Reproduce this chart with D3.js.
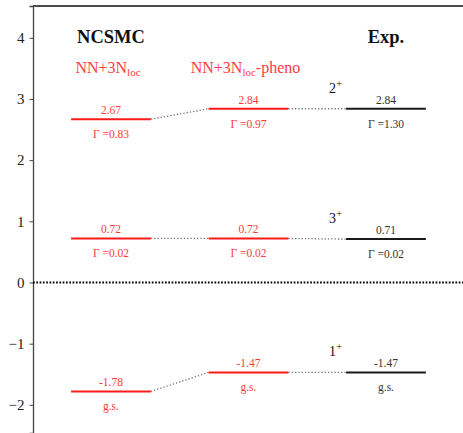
<!DOCTYPE html>
<html><head><meta charset="utf-8">
<script src="https://cdn.jsdelivr.net/npm/d3@7"></script>
<style>body{margin:0;background:#fff}svg{display:block}text{font-family:'Liberation Serif','Times New Roman','DejaVu Serif',serif}</style>
</head><body>
<script>
const columns = ["NN+3Nloc", "NN+3Nloc-pheno", "Exp."];
const states = ["2+", "3+", "1+"];
const energies = [
  [2.67, 0.72, -1.78],
  [2.84, 0.72, -1.47],
  [2.84, 0.71, -1.47]
];
const widths = [
  ["Γ =0.83", "Γ =0.02", "g.s."],
  ["Γ =0.97", "Γ =0.02", "g.s."],
  ["Γ =1.30", "Γ =0.02", "g.s."]
];
const yTicks = [-2, -1, 0, 1, 2, 3, 4];

const W = 463, H = 433;
const svg = d3.select("body").append("svg").attr("width", W).attr("height", H);
const serif = "'Liberation Serif','Times New Roman','DejaVu Serif',serif";
const RED = "#ff1a1a", RED_T = "#ff3b3b", BLK = "#1a1a1a";

const y = d3.scaleLinear().domain([-2.46, 4.52]).range([433, 6]);
const x = d3.scaleLinear().domain([-0.567, 2.56]).range([33, 463]);
const half = 0.29;

// frame
svg.append("line").attr("x1", x(-0.567)).attr("x2", W).attr("y1", y(4.52)).attr("y2", y(4.52))
  .attr("stroke", "#111").attr("stroke-width", 1.3);

const axis = d3.axisLeft(y).tickValues(yTicks).tickSize(3.5).tickPadding(5)
  .tickFormat(d => d < 0 ? "\u2212" + Math.abs(d) : d);
const ag = svg.append("g").attr("transform", `translate(${x(-0.567)},0)`).call(axis);
ag.attr("font-family", serif);
ag.select(".domain").attr("stroke", "#444").attr("stroke-width", 1.3);
ag.selectAll(".tick line").attr("stroke", "#444");
ag.selectAll(".tick text").attr("font-family", serif).attr("font-size", 15).attr("fill", "#222");

// zero line
svg.append("line").attr("x1", x(-0.567)).attr("x2", W).attr("y1", y(0)).attr("y2", y(0))
  .attr("stroke", "#000").attr("stroke-width", 1.8).attr("stroke-dasharray", "1.7,1.6");

// connectors
for (let c = 0; c < 2; c++) {
  for (let s = 0; s < states.length; s++) {
    svg.append("line")
      .attr("x1", x(c + half)).attr("y1", y(energies[c][s]))
      .attr("x2", x(c + 1 - half)).attr("y2", y(energies[c + 1][s]))
      .attr("stroke", "#777").attr("stroke-width", 1.3).attr("stroke-dasharray", "1.3,2");
  }
}

// levels
energies.forEach((col, c) => {
  const lc = c < 2 ? RED : BLK, tc = c < 2 ? RED_T : "#333";
  col.forEach((e, s) => {
    svg.append("line").attr("x1", x(c - half)).attr("x2", x(c + half))
      .attr("y1", y(e)).attr("y2", y(e)).attr("stroke", lc).attr("stroke-width", 2);
    svg.append("text").attr("x", x(c)).attr("y", y(e) - 5).attr("text-anchor", "middle")
      .attr("font-family", serif).attr("font-size", 11.5).attr("fill", tc).text(e.toFixed(2));
    svg.append("text").attr("x", x(c)).attr("y", y(e) + 19).attr("text-anchor", "middle")
      .attr("font-family", serif).attr("font-size", 11.5).attr("fill", tc).text(widths[c][s]);
  });
});

// spin labels
states.forEach((st, s) => {
  const t = svg.append("text").attr("x", x(2 - half) - 17).attr("y", y(energies[2][s]) - 16)
    .attr("font-family", serif).attr("font-size", 14).attr("fill", "#111");
  t.append("tspan").text(st[0]);
  t.append("tspan").attr("dy", -6).attr("font-size", 11).text(st.slice(1));
});

// headers
svg.append("text").attr("x", x(0)).attr("y", 43).attr("text-anchor", "middle")
  .attr("font-family", serif).attr("font-weight", "bold").attr("font-size", 18.5).attr("fill", "#111").text("NCSMC");
svg.append("text").attr("x", x(2)).attr("y", 43).attr("text-anchor", "middle")
  .attr("font-family", serif).attr("font-weight", "bold").attr("font-size", 18.5).attr("fill", "#111").text("Exp.");

function modelLabel(cx, suffix) {
  const t = svg.append("text").attr("x", cx).attr("y", 73).attr("text-anchor", "middle")
    .attr("font-family", serif).attr("font-size", 16).attr("fill", RED_T);
  t.append("tspan").text("NN+3N");
  t.append("tspan").attr("dy", 3).attr("font-size", 11).text("loc");
  if (suffix) t.append("tspan").attr("dy", -3).text(suffix);
}
modelLabel(x(0) - 3, "");
modelLabel(x(1) - 3, "-pheno");
</script>
</body></html>
